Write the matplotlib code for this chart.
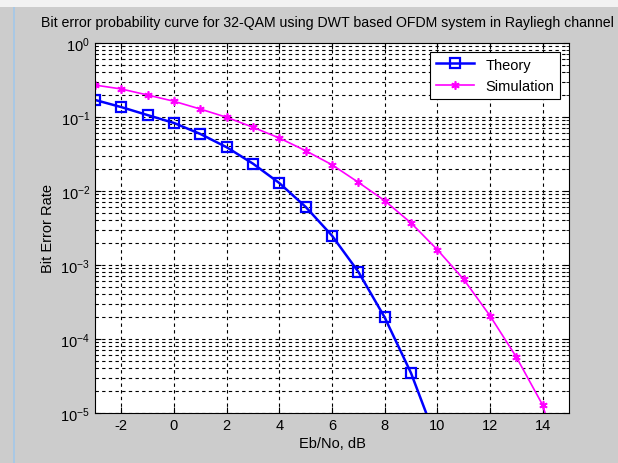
import numpy as np
import matplotlib
matplotlib.use("Agg")
import matplotlib.pyplot as plt
from matplotlib.ticker import LogLocator, FixedLocator
from matplotlib.patches import Rectangle

plt.rcParams['font.family'] = ['Liberation Sans', 'DejaVu Sans']
plt.rcParams['mathtext.fontset'] = 'custom'
plt.rcParams['mathtext.rm'] = 'Liberation Sans'
plt.rcParams['mathtext.default'] = 'regular'
plt.rcParams['axes.unicode_minus'] = False

# Data
ebno_theory = [-3, -2, -1, 0, 1, 2, 3, 4, 5, 6, 7, 8, 9, 10]
ber_theory = [0.170, 0.136, 0.106, 0.083, 0.059, 0.039, 0.0234, 0.0128,
              0.0061, 0.00249, 8.1e-4, 1.96e-4, 3.47e-5, 4.0e-6]
ebno_sim = [-3, -2, -1, 0, 1, 2, 3, 4, 5, 6, 7, 8, 9, 10, 11, 12, 13, 14, 15]
ber_sim = [0.27, 0.239, 0.198, 0.163, 0.128, 0.099, 0.0726, 0.052, 0.035,
           0.0226, 0.0131, 0.0074, 0.0037, 0.00161, 6.4e-4, 2.06e-4, 5.7e-5,
           1.28e-5, 9.0e-7]
xticks = [-2, 0, 2, 4, 6, 8, 10, 12, 14]
title = "Bit error probability curve for 32-QAM using DWT based OFDM system in Rayliegh channel"

fig = plt.figure(figsize=(6.18, 4.64), dpi=100, facecolor='#cccccc')
# window chrome hints
fig.patches.append(Rectangle((0, 0.982), 1, 0.018, transform=fig.transFigure,
                             facecolor='#f2f2f2', edgecolor='none', zorder=0))
fig.patches.append(Rectangle((0.021, 0), 0.004, 0.982, transform=fig.transFigure,
                             facecolor='#a9c8e4', edgecolor='none', zorder=0))

ax = fig.add_axes([0.1537, 0.1078, 0.767, 0.7974])
ax.set_facecolor('white')

ax.semilogy(ebno_theory, ber_theory, color='#0000ff', lw=1.8, marker='s',
            ms=7.5, mfc='none', mec='#0000ff', mew=1.6, label='Theory')
ax.semilogy(ebno_sim, ber_sim, color='#ff00ff', lw=1.2, marker=(6, 2, 0),
            ms=6, mec='#ff00ff', mew=1.2, label='Simulation')

ax.set_xlim(-3, 15)
ax.set_ylim(1e-5, 1e0)
ax.xaxis.set_major_locator(FixedLocator(xticks))
ax.yaxis.set_major_locator(LogLocator(base=10, numticks=10))
ax.yaxis.set_minor_locator(LogLocator(base=10, subs=np.arange(2, 10), numticks=10))

gridstyle = dict(color='black', linestyle=(0, (3, 3)), linewidth=0.8)
ax.grid(True, which='major', axis='both', **gridstyle)
ax.grid(True, which='minor', axis='y', **gridstyle)

ax.tick_params(which='both', direction='in', top=True, right=True,
               labelsize=10.5, colors='black')
ax.tick_params(which='major', length=4)
ax.tick_params(which='minor', length=2.5)
for s in ax.spines.values():
    s.set_linewidth(0.8)
    s.set_color('black')

fig.text(327 / 618, 1 - 23 / 464, title, fontsize=10.2, ha='center', va='center')
ax.set_xlabel('Eb/No, dB', fontsize=10.5, labelpad=3)
ax.set_ylabel('Bit Error Rate', fontsize=10.5, labelpad=4)

leg = ax.legend(loc='upper right', fontsize=10.5, frameon=True, fancybox=False,
                edgecolor='black', framealpha=1, borderaxespad=0.6,
                handlelength=2.6, labelspacing=0.5)
leg.get_frame().set_linewidth(0.8)

fig.savefig('out.png', dpi=100, facecolor=fig.get_facecolor())
